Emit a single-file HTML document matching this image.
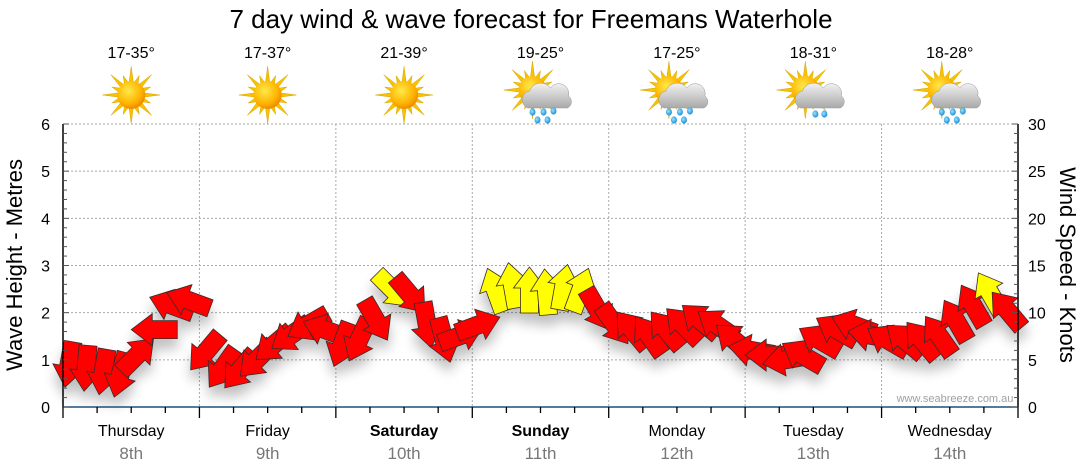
<!DOCTYPE html>
<html><head><meta charset="utf-8">
<style>
html,body{margin:0;padding:0;background:#fff;}
svg{display:block;font-family:"Liberation Sans",sans-serif;}
</style></head>
<body>
<svg id="chart" width="1080" height="475" viewBox="0 0 1080 475">
<defs>
  <filter id="shadow" x="-50%" y="-50%" width="200%" height="250%">
    <feGaussianBlur in="SourceAlpha" stdDeviation="6"/>
    <feOffset dx="0" dy="10" result="b"/>
    <feComponentTransfer><feFuncA type="linear" slope="0.25"/></feComponentTransfer>
    <feMerge><feMergeNode/><feMergeNode in="SourceGraphic"/></feMerge>
  </filter>
  <radialGradient id="sunG" cx="40%" cy="35%" r="65%">
    <stop offset="0" stop-color="#ffe94a"/><stop offset="0.7" stop-color="#ffb400"/><stop offset="1" stop-color="#f08a00"/>
  </radialGradient>
  <linearGradient id="cloudG" x1="0" y1="0" x2="0" y2="1">
    <stop offset="0" stop-color="#f2f2f2"/><stop offset="1" stop-color="#a9a9a9"/>
  </linearGradient>
  <radialGradient id="dropG" cx="40%" cy="40%" r="60%">
    <stop offset="0" stop-color="#9be3ff"/><stop offset="1" stop-color="#1a8fd8"/>
  </radialGradient>
</defs>
<text x="531" y="28" text-anchor="middle" font-size="26" fill="#000">7 day wind &amp; wave forecast for Freemans Waterhole</text>
<g id="grid"></g>
<g id="icons"></g>
<g id="arrows" filter="url(#shadow)"></g>
<g id="axes"></g>
<text x="955" y="402" text-anchor="middle" font-size="11" fill="#a0a0a0">www.seabreeze.com.au</text>
<text transform="translate(22,265) rotate(-90)" text-anchor="middle" font-size="22" fill="#000">Wave Height - Metres</text>
<text transform="translate(1060,265) rotate(90)" text-anchor="middle" font-size="22" fill="#000">Wind Speed - Knots</text>
</svg>
<script>
const days = ["Thursday","Friday","Saturday","Sunday","Monday","Tuesday","Wednesday"];
const dates = ["8th","9th","10th","11th","12th","13th","14th"];
const temps = ["17-35°","17-37°","21-39°","19-25°","17-25°","18-31°","18-28°"];
const icons = ["sun","sun","sun","rain","rain","cloud","rain"];
const waveTicks = [0,1,2,3,4,5,6];
const windTicks = [0,5,10,15,20,25,30];
// wind speed in knots, every 3 hours
const windSpeed = [4.5,4.1,3.7,3.4,5.5,8.2,10.8,11.3,
  5.8,4.1,3.9,5.0,6.6,7.6,8.7,8.2,
  6.6,7.1,9.2,12.4,11.9,8.7,7.1,7.6,
  8.7,12.4,12.9,12.4,12.2,12.7,12.4,10.3,
  8.7,8.2,7.6,8.2,8.7,9.2,8.7,7.1,
  6.0,5.5,5.0,5.5,7.1,8.2,8.7,7.6,
  7.1,7.1,7.1,7.6,9.2,10.8,12.1,10.3];
// arrow pointing direction, screen degrees (0 = right, 90 = down)
const windDir = [100,95,100,105,-45,180,200,200,
  130,125,130,135,140,145,150,200,
  110,115,60,45,50,80,75,-20,
  -20,-110,-100,-90,-95,-80,-70,60,
  55,-130,-125,-130,-135,-140,-145,-140,
  -170,180,170,-150,-150,-150,-160,-170,
  -150,-140,-130,-125,-120,-120,-120,-130];
const bold = [false,false,true,true,false,false,false];

const NS="http://www.w3.org/2000/svg";
const X0=63, X1=1018, Y0=407, Y1=124;
const dayW=(X1-X0)/7;
function xT(i){return X0+i*dayW/8;}
function yWave(v){return Y0-(v/6)*(Y0-Y1);}
function yWind(v){return Y0-(v/30)*(Y0-Y1);}
function mk(tag,attrs,parent){const e=document.createElementNS(NS,tag);for(const k in attrs)e.setAttribute(k,attrs[k]);parent.appendChild(e);return e;}

const grid=document.getElementById('grid');
waveTicks.forEach(v=>{ if(v>0){
  const l=mk('line',{x1:X0,x2:X1,y1:yWave(v),y2:yWave(v),stroke:'#aaa','stroke-dasharray':'2,2'},grid);
  
  
}});
for(let d=1;d<7;d++){
  const l=mk('line',{x1:X0+d*dayW,x2:X0+d*dayW,y1:Y1,y2:Y0,stroke:'#aaa','stroke-dasharray':'2,2'},grid);
  
  
}

const axes=document.getElementById('axes');
mk('line',{x1:X0,x2:X0,y1:Y1,y2:Y0,stroke:'#000','stroke-width':1.5},axes);
mk('line',{x1:X1,x2:X1,y1:Y1,y2:Y0,stroke:'#000','stroke-width':1.5},axes);
mk('line',{x1:X0,x2:X1,y1:Y0,y2:Y0,stroke:'#1f4e79','stroke-width':1.5},axes);
for(let i=0;i<=30;i++){const y=Y0-i*(Y0-Y1)/30;
  mk('line',{x1:X0,x2:X0+(i%5?4:6),y1:y,y2:y,stroke:'#555'},axes);
  mk('line',{x1:X1,x2:X1-(i%5?4:6),y1:y,y2:y,stroke:'#555'},axes);}
waveTicks.forEach(v=>{const t=mk('text',{x:X0-13,y:yWave(v)+6,'text-anchor':'end','font-size':16},axes);t.textContent=v;
  
  });
windTicks.forEach(v=>{const t=mk('text',{x:X1+10,y:yWind(v)+6,'font-size':16},axes);t.textContent=v;
  
  });
for(let i=0;i<=28;i++){const x=X0+i*dayW/4;
  mk('line',{x1:x,x2:x,y1:Y0,y2:Y0+(i%4?6:11),stroke:'#000','stroke-width':1.3},axes);}
days.forEach((d,i)=>{const cx=X0+(i+0.5)*dayW;
  const t=mk('text',{x:cx,y:436,'text-anchor':'middle','font-size':16,'font-weight':bold[i]?'bold':'normal'},axes);t.textContent=d;
  
  
  const t2=mk('text',{x:cx,y:459,'text-anchor':'middle','font-size':17,fill:'#777'},axes);t2.textContent=dates[i];
  
  
  const t3=mk('text',{x:cx,y:58,'text-anchor':'middle','font-size':16},document.getElementById('icons'));t3.textContent=temps[i];
  
  
});

const ig=document.getElementById('icons');
function sun(g,cx,cy,r){
  for(let k=0;k<16;k++){const a=k*Math.PI/8, L=k%2?r*1.5:r*2.05;
    const p=[[cx+Math.cos(a)*L,cy+Math.sin(a)*L],[cx+Math.cos(a+0.17)*r*0.9,cy+Math.sin(a+0.17)*r*0.9],[cx+Math.cos(a-0.17)*r*0.9,cy+Math.sin(a-0.17)*r*0.9]];
    mk('polygon',{points:p.map(q=>q.join(',')).join(' '),fill:'#f5c400',stroke:'#d9a400','stroke-width':0.5},g);}
  mk('circle',{cx:cx,cy:cy,r:r,fill:'url(#sunG)'},g);
}
icons.forEach((t,i)=>{const cx=X0+(i+0.5)*dayW, cy=95;
  const g=mk('g',{},ig);
  
  
  if(t==='sun'){sun(g,cx,cy,14);}
  else{
    sun(g,cx-8,cy-5,14);
    mk('path',{d:`M${cx-13},${cy+13} a9,9 0 0 1 2,-17 a12,12 0 0 1 21,-3 a10,10 0 0 1 18,8 a7,7 0 0 1 -1,12 z`,fill:'url(#cloudG)',stroke:'#999','stroke-width':0.5},g);
    const drops=t==='rain'?[[-8,17],[3,17],[13,16],[-3,25],[7,25]]:[[2,19],[11,19]];
    drops.forEach(d=>mk('ellipse',{cx:cx+d[0],cy:cy+d[1],rx:3,ry:3.6,fill:'url(#dropG)'},g));
  }
});

const ag=document.getElementById('arrows');
const shape="-23,-9 2,-9 2,-16 23,0 2,16 2,9 -23,9";
windSpeed.forEach((v,i)=>{
  const p=mk('polygon',{points:shape,transform:`translate(${xT(i)+6},${yWind(v)}) rotate(${windDir[i]})`,
    fill:v>=12?'#ffff00':'#ff0000',stroke:'#3a2a2a','stroke-width':0.8},ag);
  
  
});
</script>
</body></html>
